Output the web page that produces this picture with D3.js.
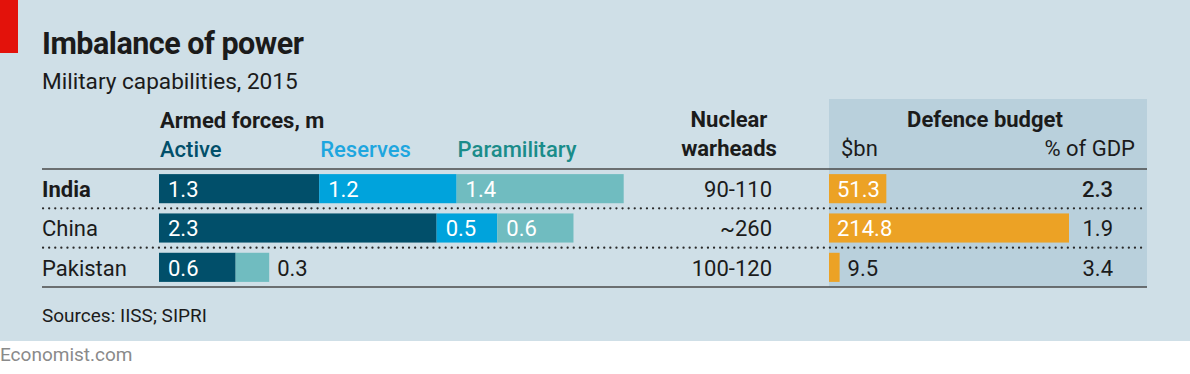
<!DOCTYPE html>
<html>
<head>
<meta charset="utf-8">
<script src="https://cdn.jsdelivr.net/npm/d3@7"></script>
<style>
  body { margin: 0; background: #fff; }
  svg text { font-family: Roboto, sans-serif; }
</style>
</head>
<body>
<svg id="chart" width="1190" height="374"></svg>
<script>
// data
var countries = ["India", "China", "Pakistan"];
var active = [1.346, 2.333, 0.644];
var reserves = [1.155, 0.510, 0];
var paramilitary = [1.404, 0.64, 0.282];
var warheads = ["90-110", "~260", "100-120"];
var budgetBn = [51.3, 214.8, 9.5];
var budgetGdp = [2.3, 1.9, 3.4];

var forceKeys = ["Active", "Reserves", "Paramilitary"];
var barColors = {Active: "#014f6a", Reserves: "#00a3dc", Paramilitary: "#70bcc0"};
var labelColors = {Active: "#014f6a", Reserves: "#1ea6df", Paramilitary: "#1a8c8a"};

var fs = 22;

var svg = d3.select("#chart");

svg.append("rect").attr("width", 1190).attr("height", 341).attr("fill", "#cfdfe7");
svg.append("rect").attr("width", 18).attr("height", 53).attr("fill", "#e3120b");

svg.append("text").attr("x", 42).attr("y", 54)
  .attr("font-size", 30.5).attr("font-weight", 700).attr("letter-spacing", -0.5)
  .attr("fill", "#1b1b1b").text("Imbalance of power");
svg.append("text").attr("x", 42).attr("y", 89)
  .attr("font-size", 22.6).attr("fill", "#1b1b1b").text("Military capabilities, 2015");

// scales
var y = d3.scaleBand().domain(countries).range([169, 287]).paddingInner(0.26).paddingOuter(0.13);
var x = d3.scaleLinear().domain([0, 4]).range([159, 635]);
var xb = d3.scaleLinear().domain([0, 214.8]).range([829, 1069]);

// defence budget panel
svg.append("rect").attr("x", 829).attr("y", 99).attr("width", 318).attr("height", 188).attr("fill", "#b9d0dc");

// headers
svg.append("text").attr("x", 160).attr("y", 128).attr("font-size", fs).attr("font-weight", 700)
  .attr("fill", "#1b1b1b").text("Armed forces, m");

var rows = countries.map(function(c, i) {
  return {country: c, Active: active[i], Reserves: reserves[i], Paramilitary: paramilitary[i]};
});
var stacked = d3.stack().keys(forceKeys)(rows);

svg.selectAll(".legend").data(stacked).join("text")
  .attr("class", "legend")
  .attr("x", function(s) { return x(s[0][0]) + 1; })
  .attr("y", 157).attr("font-size", fs).attr("font-weight", 500)
  .attr("fill", function(s) { return labelColors[s.key]; })
  .text(function(s) { return s.key; });

svg.append("text").attr("x", 729).attr("y", 127).attr("text-anchor", "middle")
  .attr("font-size", fs).attr("font-weight", 700).attr("fill", "#1b1b1b").text("Nuclear");
svg.append("text").attr("x", 729).attr("y", 156).attr("text-anchor", "middle")
  .attr("font-size", fs).attr("font-weight", 700).attr("fill", "#1b1b1b").text("warheads");
svg.append("text").attr("x", 985).attr("y", 127).attr("text-anchor", "middle")
  .attr("font-size", fs).attr("font-weight", 700).attr("fill", "#1b1b1b").text("Defence budget");
svg.append("text").attr("x", 841).attr("y", 156)
  .attr("font-size", fs).attr("fill", "#1b1b1b").text("$bn");
svg.append("text").attr("x", 1135).attr("y", 156).attr("text-anchor", "end")
  .attr("font-size", fs).attr("fill", "#1b1b1b").text("% of GDP");

// rules
svg.append("line").attr("x1", 42).attr("x2", 1147).attr("y1", 169).attr("y2", 169)
  .attr("stroke", "#4a4a4a").attr("stroke-width", 1.5);
svg.append("line").attr("x1", 42).attr("x2", 1147).attr("y1", 287).attr("y2", 287)
  .attr("stroke", "#4a4a4a").attr("stroke-width", 1.5);
svg.selectAll(".dots").data(countries.slice(0, -1)).join("line")
  .attr("class", "dots")
  .attr("x1", 43).attr("x2", 1147)
  .attr("y1", function(d) { return y(d) + y.bandwidth() + (y.step() - y.bandwidth()) / 2; })
  .attr("y2", function(d) { return y(d) + y.bandwidth() + (y.step() - y.bandwidth()) / 2; })
  .attr("stroke", "#2a2a2a").attr("stroke-width", 2.2).attr("stroke-linecap", "round")
  .attr("stroke-dasharray", "0.1,6");

// country labels
svg.selectAll(".country").data(countries).join("text")
  .attr("class", "country")
  .attr("x", 42).attr("y", function(d) { return y(d) + 23; })
  .attr("font-size", fs).attr("font-weight", function(d) { return d == "India" ? 700 : 400; })
  .attr("fill", "#1b1b1b").text(function(d) { return d; });

// armed forces stacked bars
var groups = svg.selectAll(".series").data(stacked).join("g")
  .attr("class", "series")
  .attr("fill", function(s) { return barColors[s.key]; });

groups.selectAll("rect").data(function(s) { return s; }).join("rect")
  .attr("x", function(d) { return x(d[0]); })
  .attr("y", function(d) { return y(d.data.country); })
  .attr("width", function(d) { return x(d[1]) - x(d[0]); })
  .attr("height", y.bandwidth());

var segs = [];
stacked.forEach(function(s) {
  s.forEach(function(d) { if (d[1] - d[0] > 0) segs.push({v: d[1] - d[0], x0: d[0], x1: d[1], country: d.data.country}); });
});
svg.selectAll(".seglabel").data(segs).join("text")
  .attr("class", "seglabel")
  .attr("x", function(d) { return (x(d.x1) - x(d.x0) > 40) ? x(d.x0) + 9 : x(d.x1) + 8; })
  .attr("y", function(d) { return y(d.country) + 23; })
  .attr("font-size", fs)
  .attr("fill", function(d) { return (x(d.x1) - x(d.x0) > 40) ? "#fff" : "#1b1b1b"; })
  .text(function(d) { return d3.format(".1f")(d.v); });

// warheads
svg.selectAll(".warheads").data(warheads).join("text")
  .attr("class", "warheads")
  .attr("x", 772).attr("y", function(d, i) { return y(countries[i]) + 23; })
  .attr("text-anchor", "end").attr("font-size", fs).attr("fill", "#1b1b1b")
  .text(function(d) { return d; });

// budget bars
svg.selectAll(".budget").data(budgetBn).join("rect")
  .attr("class", "budget")
  .attr("x", xb(0)).attr("y", function(d, i) { return y(countries[i]); })
  .attr("width", function(d) { return xb(d) - xb(0); })
  .attr("height", y.bandwidth()).attr("fill", "#eca225");

svg.selectAll(".budgetlabel").data(budgetBn).join("text")
  .attr("class", "budgetlabel")
  .attr("x", function(d) { return (xb(d) - xb(0) > 40) ? xb(0) + 8 : xb(d) + 8; })
  .attr("y", function(d, i) { return y(countries[i]) + 23; })
  .attr("font-size", fs)
  .attr("fill", function(d) { return (xb(d) - xb(0) > 40) ? "#fff" : "#1b1b1b"; })
  .text(function(d) { return d3.format(".1f")(d); });

svg.selectAll(".gdp").data(budgetGdp).join("text")
  .attr("class", "gdp")
  .attr("x", 1113).attr("y", function(d, i) { return y(countries[i]) + 23; })
  .attr("text-anchor", "end").attr("font-size", fs).attr("fill", "#1b1b1b")
  .attr("font-weight", function(d, i) { return i == 0 ? 500 : 400; })
  .text(function(d) { return d3.format(".1f")(d); });

// footer
svg.append("text").attr("x", 42).attr("y", 322).attr("font-size", 19)
  .attr("fill", "#1b1b1b").text("Sources: IISS; SIPRI");
svg.append("text").attr("x", 0).attr("y", 361).attr("font-size", 19)
  .attr("fill", "#8a8a8a").text("Economist.com");
</script>
</body>
</html>
